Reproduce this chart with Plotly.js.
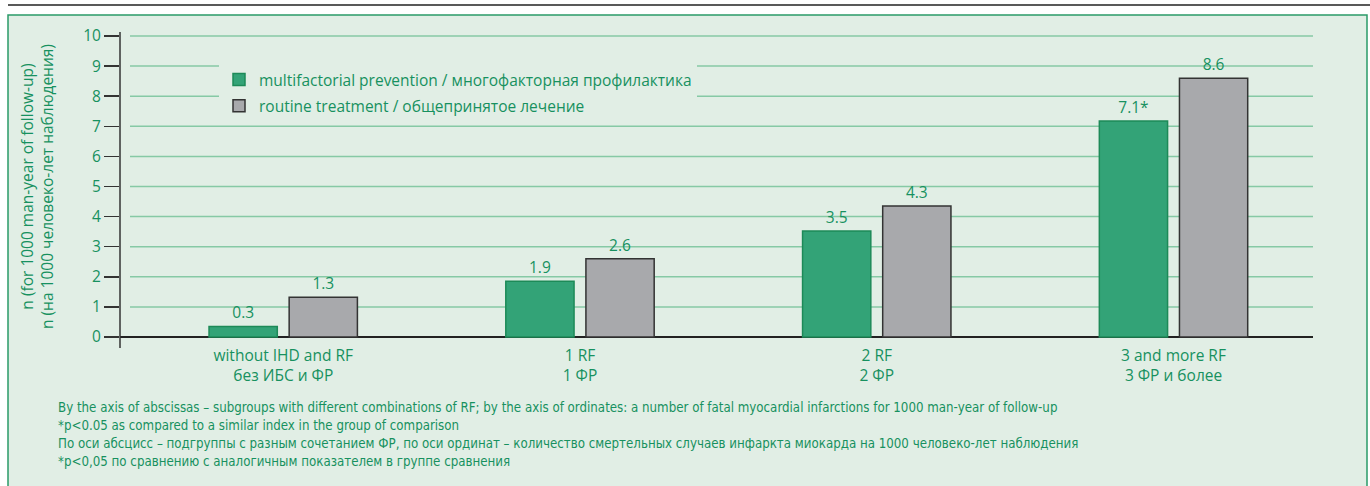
<!DOCTYPE html>
<html>
<head>
<meta charset="utf-8">
<script src="https://cdn.plot.ly/plotly-3.0.1.min.js"></script>
<style>html,body{margin:0;padding:0;background:#fff;}#chart{width:1370px;height:486px;}</style>
</head>
<body>
<div id="chart"></div>
<script>
const categories = ["without IHD and RF<br>без ИБС и ФР", "1 RF<br>1 ФР", "2 RF<br>2 ФР", "3 and more RF<br>3 ФР и более"];
const preventionValues = [0.35, 1.85, 3.52, 7.18];
const preventionLabels = ["0.3", "1.9", "3.5", "7.1*"];
const routineValues = [1.32, 2.6, 4.35, 8.6];
const routineLabels = ["1.3", "2.6", "4.3", "8.6"];
const seriesNames = ["multifactorial prevention / многофакторная профилактика", "routine treatment / общепринятое лечение"];
const yTicks = [0, 1, 2, 3, 4, 5, 6, 7, 8, 9, 10];
const yTitle = ["n (for 1000 man-year of follow-up)", "n (на 1000 человеко-лет наблюдения)"];
const footnotes = [
  "By the axis of abscissas – subgroups with different combinations of RF; by the axis of ordinates: a number of fatal myocardial infarctions for 1000 man-year of follow-up",
  "*p<0.05 as compared to a similar index in the group of comparison",
  "По оси абсцисс – подгруппы с разным сочетанием ФР, по оси ординат – количество смертельных случаев инфаркта миокарда на 1000 человеко-лет наблюдения",
  "*p<0,05 по сравнению с аналогичным показателем в группе сравнения"
];

const GREEN_TXT = '#17915f';
const BG = '#e1eee5';
const FONT = '"Open Sans", "Noto Sans", sans-serif';
const NARROW = '"Liberation Sans Narrow", "DejaVu Sans Condensed", sans-serif';
const FS = 15.5;

// pixel helpers (plot area: x 120..1313, y 32..348)
const L = 120, R = 1313, T = 32, B = 348;
const px = x => (x - L) / (R - L);
const py = y => (B - y) / (B - T);

const traces = [
  {
    type: 'bar', name: seriesNames[0], x: categories, y: preventionValues,
    text: preventionLabels, texttemplate: '%{text}', textposition: 'outside',
    textfont: {color: GREEN_TXT, size: FS, family: FONT},
    offset: -0.25, width: 0.23, cliponaxis: false,
    marker: {color: '#33a377', line: {color: '#1d8a58', width: 1.5}},
    legendgroup: 'a', hoverinfo: 'y'
  },
  {
    type: 'bar', name: seriesNames[1], x: categories, y: routineValues,
    text: routineLabels, texttemplate: '%{text}', textposition: 'outside',
    textfont: {color: GREEN_TXT, size: FS, family: FONT},
    offset: 0.02, width: 0.23, cliponaxis: false,
    marker: {color: '#a8a9ac', line: {color: '#333333', width: 1.5}},
    legendgroup: 'b', hoverinfo: 'y'
  }
];

const shapes = [
  {type: 'line', xref: 'paper', yref: 'paper', x0: px(8), x1: px(1370), y0: py(5), y1: py(5), line: {color: '#222', width: 1.5}, layer: 'below'},
  {type: 'rect', xref: 'paper', yref: 'paper', x0: px(8), x1: px(1367), y0: py(495), y1: py(15), fillcolor: BG, line: {color: '#2a9a68', width: 1.5}, layer: 'below'}
];
yTicks.slice(1).forEach(v => shapes.push({
  type: 'line', xref: 'paper', yref: 'y', x0: px(130), x1: 1, y0: v, y1: v,
  line: {color: '#86c9a5', width: 1.5}, layer: 'below'
}));
// y axis line (extends below zero)
shapes.push({type: 'line', xref: 'paper', yref: 'paper', x0: 0, x1: 0, y0: 0, y1: 1, line: {color: '#333', width: 1.5}, layer: 'above'});

const annotations = [
  {xref: 'paper', yref: 'paper', x: px(37), y: py(186), text: yTitle.join('<br>'), textangle: -90,
   showarrow: false, font: {color: GREEN_TXT, size: FS, family: FONT}, xanchor: 'center', yanchor: 'middle'}
];
footnotes.forEach((t, i) => annotations.push({
  xref: 'paper', yref: 'paper', x: px(56), y: py(407 + i * 18), text: t.replace(/</g, '&lt;'),
  showarrow: false, xanchor: 'left', yanchor: 'middle', align: 'left',
  font: {color: GREEN_TXT, size: 13.2, family: NARROW}
}));

const layout = {
  width: 1370, height: 486,
  margin: {l: L, r: 1370 - R, t: T, b: 486 - B, pad: 0},
  paper_bgcolor: '#ffffff', plot_bgcolor: 'rgba(0,0,0,0)',
  font: {family: FONT, color: GREEN_TXT, size: FS},
  barmode: 'group',
  showlegend: true,
  legend: {x: px(219), y: py(63), xanchor: 'left', yanchor: 'top', bgcolor: BG,
           font: {color: GREEN_TXT, size: FS, family: FONT}, traceorder: 'grouped', tracegroupgap: 3,
           borderwidth: 0},
  xaxis: {type: 'category', range: [-0.55, 3.47], showgrid: false, zeroline: false, showline: false,
          ticks: '', ticklabelstandoff: -4, tickfont: {color: GREEN_TXT, size: FS, family: FONT}, fixedrange: true},
  yaxis: {range: [-11 / 30.1, 10 + 4 / 30.1], tickvals: yTicks, showgrid: false,
          zeroline: true, zerolinecolor: '#222', zerolinewidth: 1.5,
          showline: false, ticks: 'outside', ticklen: 15, tickwidth: 1.5, tickcolor: '#333',
          tickfont: {color: GREEN_TXT, size: FS, family: FONT}, fixedrange: true},
  shapes: shapes,
  annotations: annotations
};

Plotly.newPlot('chart', traces, layout, {displayModeBar: false, staticPlot: true});
</script>
</body>
</html>
